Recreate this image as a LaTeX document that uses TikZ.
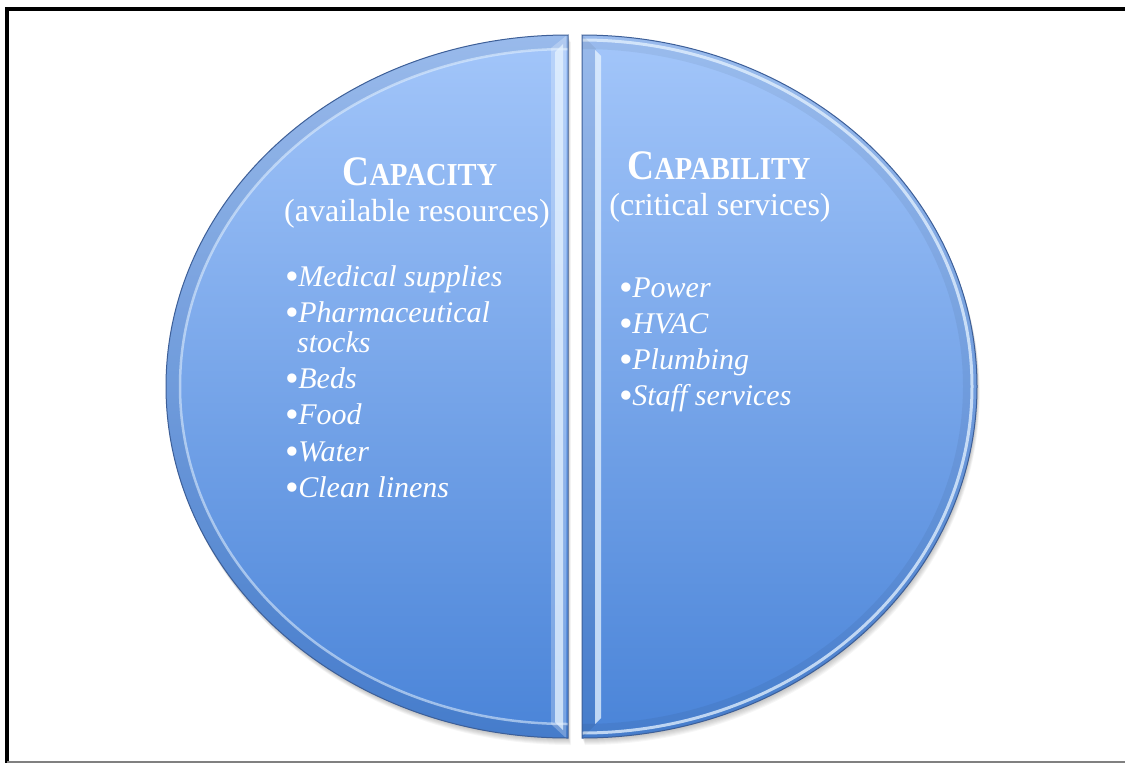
\documentclass[tikz,border=0pt]{standalone}
\usepackage{fontspec}
\setmainfont{Liberation Serif}
\definecolor{faceTop}{HTML}{A3C6FA}
\definecolor{faceMid}{HTML}{7AA8EE}
\definecolor{faceBot}{HTML}{4A84D8}
\definecolor{rimEdge}{HTML}{3D5F98}
\definecolor{glow}{HTML}{E6F3FF}
\tikzset{
  heading/.style={anchor=base, text=white, inner sep=0pt, font=\bfseries, xscale=0.89},
  subhead/.style={anchor=base, text=white, inner sep=0pt, font=\fontsize{32}{36}\selectfont},
  item/.style={anchor=base west, text=white, inner sep=0pt, font=\fontsize{30}{34}\selectfont},
}
\newcommand{\capsword}[2]{{\fontsize{42}{46}\selectfont #1}{\fontsize{32}{36}\selectfont #2}}
\newcommand{\bul}{\raisebox{-3pt}{\scalebox{1.3}{\textbullet}}\hspace{-0.5pt}}
\begin{document}
\begin{tikzpicture}[x=1pt,y=-1pt]
\useasboundingbox (0,0) rectangle (1125,763);
\fill[white] (0,0) rectangle (1125,763);
% frame
\draw[black, line width=3.5] (7,770) -- (7,9) -- (1130,9);
\draw[gray, line width=1.5] (7,762) -- (1130,762);
\def\LeftHalf{(568,35) arc[start angle=-90, end angle=-270, x radius=402, y radius=351.5] -- cycle}
\def\RightHalf{(582,35) arc[start angle=-90, end angle=90, x radius=395, y radius=351.5] -- cycle}
% soft shadow
\foreach \s in {1,...,7}{
  \fill[black, opacity=0.035, shift={(0.4*\s,\s)}] \LeftHalf;
  \fill[black, opacity=0.035, shift={(0.4*\s,\s)}] \RightHalf;
}
% faces
\shade[top color=faceTop, middle color=faceMid, bottom color=faceBot] \LeftHalf;
\shade[top color=faceTop, middle color=faceMid, bottom color=faceBot] \RightHalf;
% left bevel
\begin{scope}
  \clip \LeftHalf;
  \draw[black, opacity=0.06, line width=14] (568,386.5) ellipse[x radius=395, y radius=344.5];
  \draw[glow, opacity=0.55, line width=2.5] (568,386.5) ellipse[x radius=388, y radius=337.5];
  \fill[white, opacity=0.25] (551,48) -- (566,36) -- (566,738) -- (551,724) -- cycle;
  \fill[glow, opacity=0.75] (555,52) -- (563,44) -- (563,730) -- (555,722) -- cycle;
\end{scope}
% right bevel
\begin{scope}
  \clip \RightHalf;
  \draw[black, opacity=0.05, line width=14] (582,386.5) ellipse[x radius=388, y radius=344.5];
  \draw[glow, opacity=0.75, line width=3] (582,386.5) ellipse[x radius=390, y radius=346.5];
  \fill[black, opacity=0.06] (582,35) -- (596,49) -- (596,724) -- (582,738) -- cycle;
  \fill[glow, opacity=0.75] (595,50) -- (601,56) -- (601,718) -- (595,724) -- cycle;
\end{scope}
\draw[rimEdge, line width=1] \LeftHalf;
\draw[rimEdge, line width=1] \RightHalf;
% left texts
\node[heading] (capH) at (420,185) {\capsword{C}{APACITY}};
\node[subhead] (capS) at (417,221.7) {(available resources)};
\node[item] (l1) at (285,286) {\bul\textit{Medical supplies}};
\node[item] (l2) at (285,322) {\bul\textit{Pharmaceutical}};
\node[item] (l2b) at (297,352) {\textit{stocks}};
\node[item] (l3) at (285,388) {\bul\textit{Beds}};
\node[item] (l4) at (285,424) {\bul\textit{Food}};
\node[item] (l5) at (285,461) {\bul\textit{Water}};
\node[item] (l6) at (285,497) {\bul\textit{Clean linens}};
% right texts
\node[heading] (cabH) at (719,179) {\capsword{C}{APABILITY}};
\node[subhead] (cabS) at (720,215) {(critical services)};
\node[item] (r1) at (619,297) {\bul\textit{Power}};
\node[item] (r2) at (619,333) {\bul\textit{HVAC}};
\node[item] (r3) at (619,369) {\bul\textit{Plumbing}};
\node[item] (r4) at (619,405) {\bul\textit{Staff services}};
\end{tikzpicture}
\end{document}
